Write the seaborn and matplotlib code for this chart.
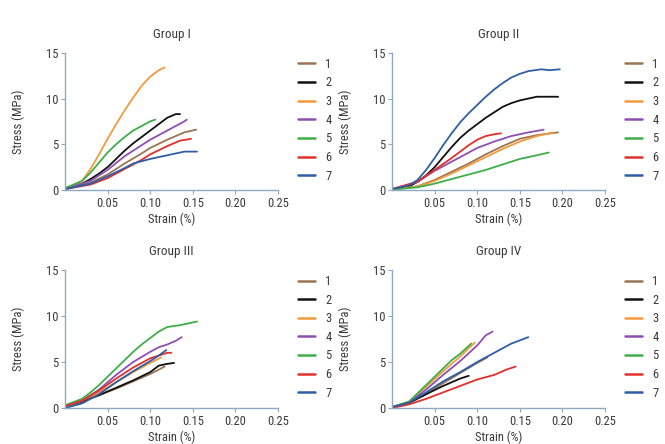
import pandas as pd
import numpy as np
import matplotlib
matplotlib.use("Agg")
import matplotlib.pyplot as plt
from matplotlib import font_manager
import seaborn as sns

# ===============================
# Data
# ===============================
samples = ["1", "2", "3", "4", "5", "6", "7"]
colors = ["#9a7552", "#111111", "#f39b3c", "#8e4fb3", "#3eae48", "#e2302a", "#2f5ea6"]
groups = ["Group I", "Group II", "Group III", "Group IV"]

# Group I
g1_strain = {
    "1": [0, 0.03, 0.05, 0.07, 0.09, 0.10, 0.12, 0.14, 0.154],
    "2": [0, 0.02, 0.03, 0.04, 0.05, 0.06, 0.07, 0.08, 0.09, 0.10, 0.11, 0.12, 0.13, 0.135],
    "3": [0, 0.01, 0.02, 0.03, 0.04, 0.05, 0.06, 0.07, 0.08, 0.09, 0.10, 0.11, 0.117],
    "4": [0, 0.03, 0.05, 0.07, 0.09, 0.10, 0.12, 0.14, 0.143],
    "5": [0, 0.02, 0.03, 0.04, 0.05, 0.06, 0.07, 0.08, 0.09, 0.10, 0.106],
    "6": [0, 0.03, 0.05, 0.07, 0.09, 0.10, 0.12, 0.135, 0.148],
    "7": [0, 0.03, 0.05, 0.07, 0.08, 0.10, 0.12, 0.14, 0.155],
}
g1_stress = {
    "1": [0.1, 0.8, 1.7, 2.9, 4.0, 4.6, 5.5, 6.3, 6.6],
    "2": [0.2, 0.7, 1.2, 1.8, 2.5, 3.4, 4.3, 5.1, 5.8, 6.5, 7.2, 7.9, 8.3, 8.3],
    "3": [0.2, 0.5, 1.0, 2.3, 3.9, 5.6, 7.2, 8.7, 10.1, 11.4, 12.4, 13.1, 13.4],
    "4": [0.1, 1.0, 2.2, 3.7, 4.9, 5.5, 6.5, 7.5, 7.7],
    "5": [0.2, 1.0, 1.9, 3.0, 4.1, 5.0, 5.8, 6.5, 7.0, 7.5, 7.7],
    "6": [0.1, 0.6, 1.3, 2.3, 3.3, 3.9, 4.8, 5.4, 5.6],
    "7": [0.1, 0.7, 1.5, 2.4, 2.9, 3.4, 3.8, 4.2, 4.2],
}

# Group II
g2_strain = {
    "1": [0, 0.03, 0.05, 0.07, 0.09, 0.11, 0.13, 0.15, 0.17, 0.195],
    "2": [0, 0.02, 0.03, 0.04, 0.05, 0.06, 0.07, 0.08, 0.09, 0.10, 0.11, 0.12, 0.13, 0.14, 0.15, 0.17, 0.195],
    "3": [0, 0.03, 0.05, 0.07, 0.09, 0.11, 0.13, 0.15, 0.17, 0.19],
    "4": [0, 0.03, 0.05, 0.07, 0.09, 0.10, 0.12, 0.14, 0.16, 0.178],
    "5": [0, 0.03, 0.05, 0.07, 0.09, 0.11, 0.13, 0.15, 0.17, 0.184],
    "6": [0, 0.03, 0.05, 0.07, 0.09, 0.10, 0.11, 0.12, 0.128],
    "7": [0, 0.02, 0.03, 0.04, 0.05, 0.06, 0.07, 0.08, 0.09, 0.10, 0.11, 0.12, 0.13, 0.14, 0.15, 0.16, 0.175, 0.185, 0.197],
}
g2_stress = {
    "1": [0.05, 0.4, 1.1, 2.0, 2.9, 3.9, 4.8, 5.6, 6.0, 6.3],
    "2": [0.1, 0.4, 0.9, 1.6, 2.5, 3.6, 4.7, 5.7, 6.5, 7.2, 7.9, 8.5, 9.1, 9.5, 9.8, 10.2, 10.2],
    "3": [0.05, 0.4, 1.0, 1.8, 2.7, 3.6, 4.5, 5.3, 5.9, 6.3],
    "4": [0.1, 0.9, 2.1, 3.1, 4.1, 4.6, 5.3, 5.9, 6.3, 6.6],
    "5": [0.05, 0.3, 0.7, 1.2, 1.7, 2.2, 2.8, 3.4, 3.8, 4.1],
    "6": [0.1, 0.9, 2.2, 3.5, 4.9, 5.5, 5.9, 6.1, 6.2],
    "7": [0.1, 0.5, 1.1, 2.2, 3.5, 4.9, 6.2, 7.4, 8.4, 9.3, 10.2, 11.0, 11.7, 12.3, 12.7, 13.0, 13.2, 13.1, 13.2],
}

# Group III
g3_strain = {
    "1": [0, 0.02, 0.04, 0.06, 0.08, 0.10, 0.117],
    "2": [0, 0.02, 0.04, 0.06, 0.08, 0.10, 0.11, 0.12, 0.128],
    "3": [0, 0.02, 0.04, 0.06, 0.08, 0.10, 0.113],
    "4": [0, 0.02, 0.04, 0.06, 0.08, 0.10, 0.11, 0.12, 0.13, 0.137],
    "5": [0, 0.02, 0.03, 0.04, 0.05, 0.06, 0.07, 0.08, 0.09, 0.10, 0.11, 0.12, 0.135, 0.155],
    "6": [0, 0.02, 0.04, 0.06, 0.08, 0.10, 0.11, 0.12, 0.125],
    "7": [0, 0.02, 0.04, 0.06, 0.08, 0.10, 0.11, 0.119],
}
g3_stress = {
    "1": [0.2, 0.7, 1.4, 2.1, 2.9, 3.7, 4.5],
    "2": [0.2, 0.7, 1.4, 2.2, 3.0, 3.9, 4.6, 4.8, 4.9],
    "3": [0.2, 0.8, 1.7, 2.8, 3.9, 4.9, 5.5],
    "4": [0.2, 0.8, 2.0, 3.6, 5.0, 6.1, 6.6, 6.9, 7.3, 7.7],
    "5": [0.3, 1.0, 1.7, 2.5, 3.4, 4.3, 5.2, 6.1, 6.9, 7.6, 8.3, 8.8, 9.0, 9.4],
    "6": [0.2, 0.8, 1.9, 3.2, 4.4, 5.4, 5.7, 6.0, 6.0],
    "7": [0.0, 0.5, 1.5, 2.8, 4.0, 5.1, 5.7, 6.3],
}

# Group IV
g4_strain = {
    "1": [0, 0.02, 0.04, 0.06, 0.08, 0.10, 0.112],
    "2": [0, 0.02, 0.04, 0.06, 0.08, 0.09],
    "3": [0, 0.02, 0.04, 0.06, 0.08, 0.09, 0.097],
    "4": [0, 0.02, 0.04, 0.06, 0.08, 0.10, 0.11, 0.118],
    "5": [0, 0.02, 0.04, 0.06, 0.07, 0.08, 0.093],
    "6": [0, 0.02, 0.04, 0.06, 0.08, 0.10, 0.12, 0.135, 0.145],
    "7": [0, 0.02, 0.04, 0.06, 0.08, 0.10, 0.12, 0.14, 0.16],
}
g4_stress = {
    "1": [0.1, 0.5, 1.5, 2.7, 3.8, 4.9, 5.5],
    "2": [0.1, 0.6, 1.5, 2.4, 3.2, 3.5],
    "3": [0.1, 0.7, 2.3, 4.0, 5.6, 6.5, 7.1],
    "4": [0.1, 0.6, 2.0, 3.6, 5.1, 6.8, 7.9, 8.3],
    "5": [0.1, 0.7, 2.5, 4.3, 5.2, 5.9, 7.0],
    "6": [0.0, 0.4, 1.0, 1.7, 2.4, 3.1, 3.6, 4.2, 4.5],
    "7": [0.1, 0.6, 1.7, 2.9, 3.9, 5.0, 6.0, 7.0, 7.7],
}

all_strain = [g1_strain, g2_strain, g3_strain, g4_strain]
all_stress = [g1_stress, g2_stress, g3_stress, g4_stress]

# long table for seaborn
rows = []
for g, st, ss in zip(groups, all_strain, all_stress):
    for s in samples:
        for x, y in zip(st[s], ss[s]):
            rows.append({"group": g, "sample": s, "strain": x, "stress": y})
df = pd.DataFrame(rows)

# ===============================
# Plot
# ===============================
sns.set_style("white")

# pick a narrow font if one is around
installed = {f.name for f in font_manager.fontManager.ttflist}
family = "DejaVu Sans"
for cand in ["Liberation Sans Narrow", "Roboto Condensed", "Open Sans Condensed", "Roboto", "Liberation Sans"]:
    if cand in installed:
        family = cand
        break
plt.rcParams["font.family"] = [family, "DejaVu Sans"]

spine_col = "#8fa9c2"
text_col = "#3a3a3a"
palette = dict(zip(samples, colors))

fig = plt.figure(figsize=(6.65, 4.44), dpi=100)
positions = [
    [0.0977, 0.572, 0.3203, 0.309],
    [0.5895, 0.572, 0.3203, 0.309],
    [0.0977, 0.081, 0.3203, 0.311],
    [0.5895, 0.081, 0.3203, 0.311],
]

for g, pos in zip(groups, positions):
    ax = fig.add_axes(pos)
    sub = df[df.group == g]
    sns.lineplot(data=sub, x="strain", y="stress", hue="sample", units="sample",
                 estimator=None, sort=False, palette=palette, hue_order=samples,
                 linewidth=1.3, ax=ax)
    ax.set_xlim(0, 0.25)
    ax.set_ylim(0, 15)
    ax.set_xticks([0.05, 0.10, 0.15, 0.20, 0.25])
    ax.set_xticklabels(["0.05", "0.10", "0.15", "0.20", "0.25"])
    ax.set_yticks([0, 5, 10, 15])
    sns.despine(ax=ax)
    for sp in ["left", "bottom"]:
        ax.spines[sp].set_color(spine_col)
        ax.spines[sp].set_linewidth(1.0)
    ax.tick_params(axis="both", which="major", length=3, width=0.8, color=spine_col,
                   labelsize=9, labelcolor=text_col, pad=2, direction="out",
                   bottom=True, left=True)
    ax.set_xlabel("Strain (%)", fontsize=9, color=text_col, labelpad=2)
    ax.set_ylabel("Stress (MPa)", fontsize=9, color=text_col, labelpad=15)
    ax.set_title(g, fontsize=9.5, color=text_col, pad=11)
    leg = ax.legend(loc="upper left", bbox_to_anchor=(1.07, 1.0), frameon=False,
                    fontsize=9, handlelength=1.4, handletextpad=0.8,
                    labelspacing=0.45, borderaxespad=0)
    for t in leg.get_texts():
        t.set_color(text_col)
    for h in leg.get_lines():
        h.set_linewidth(1.8)

fig.savefig("out.png", dpi=100)
